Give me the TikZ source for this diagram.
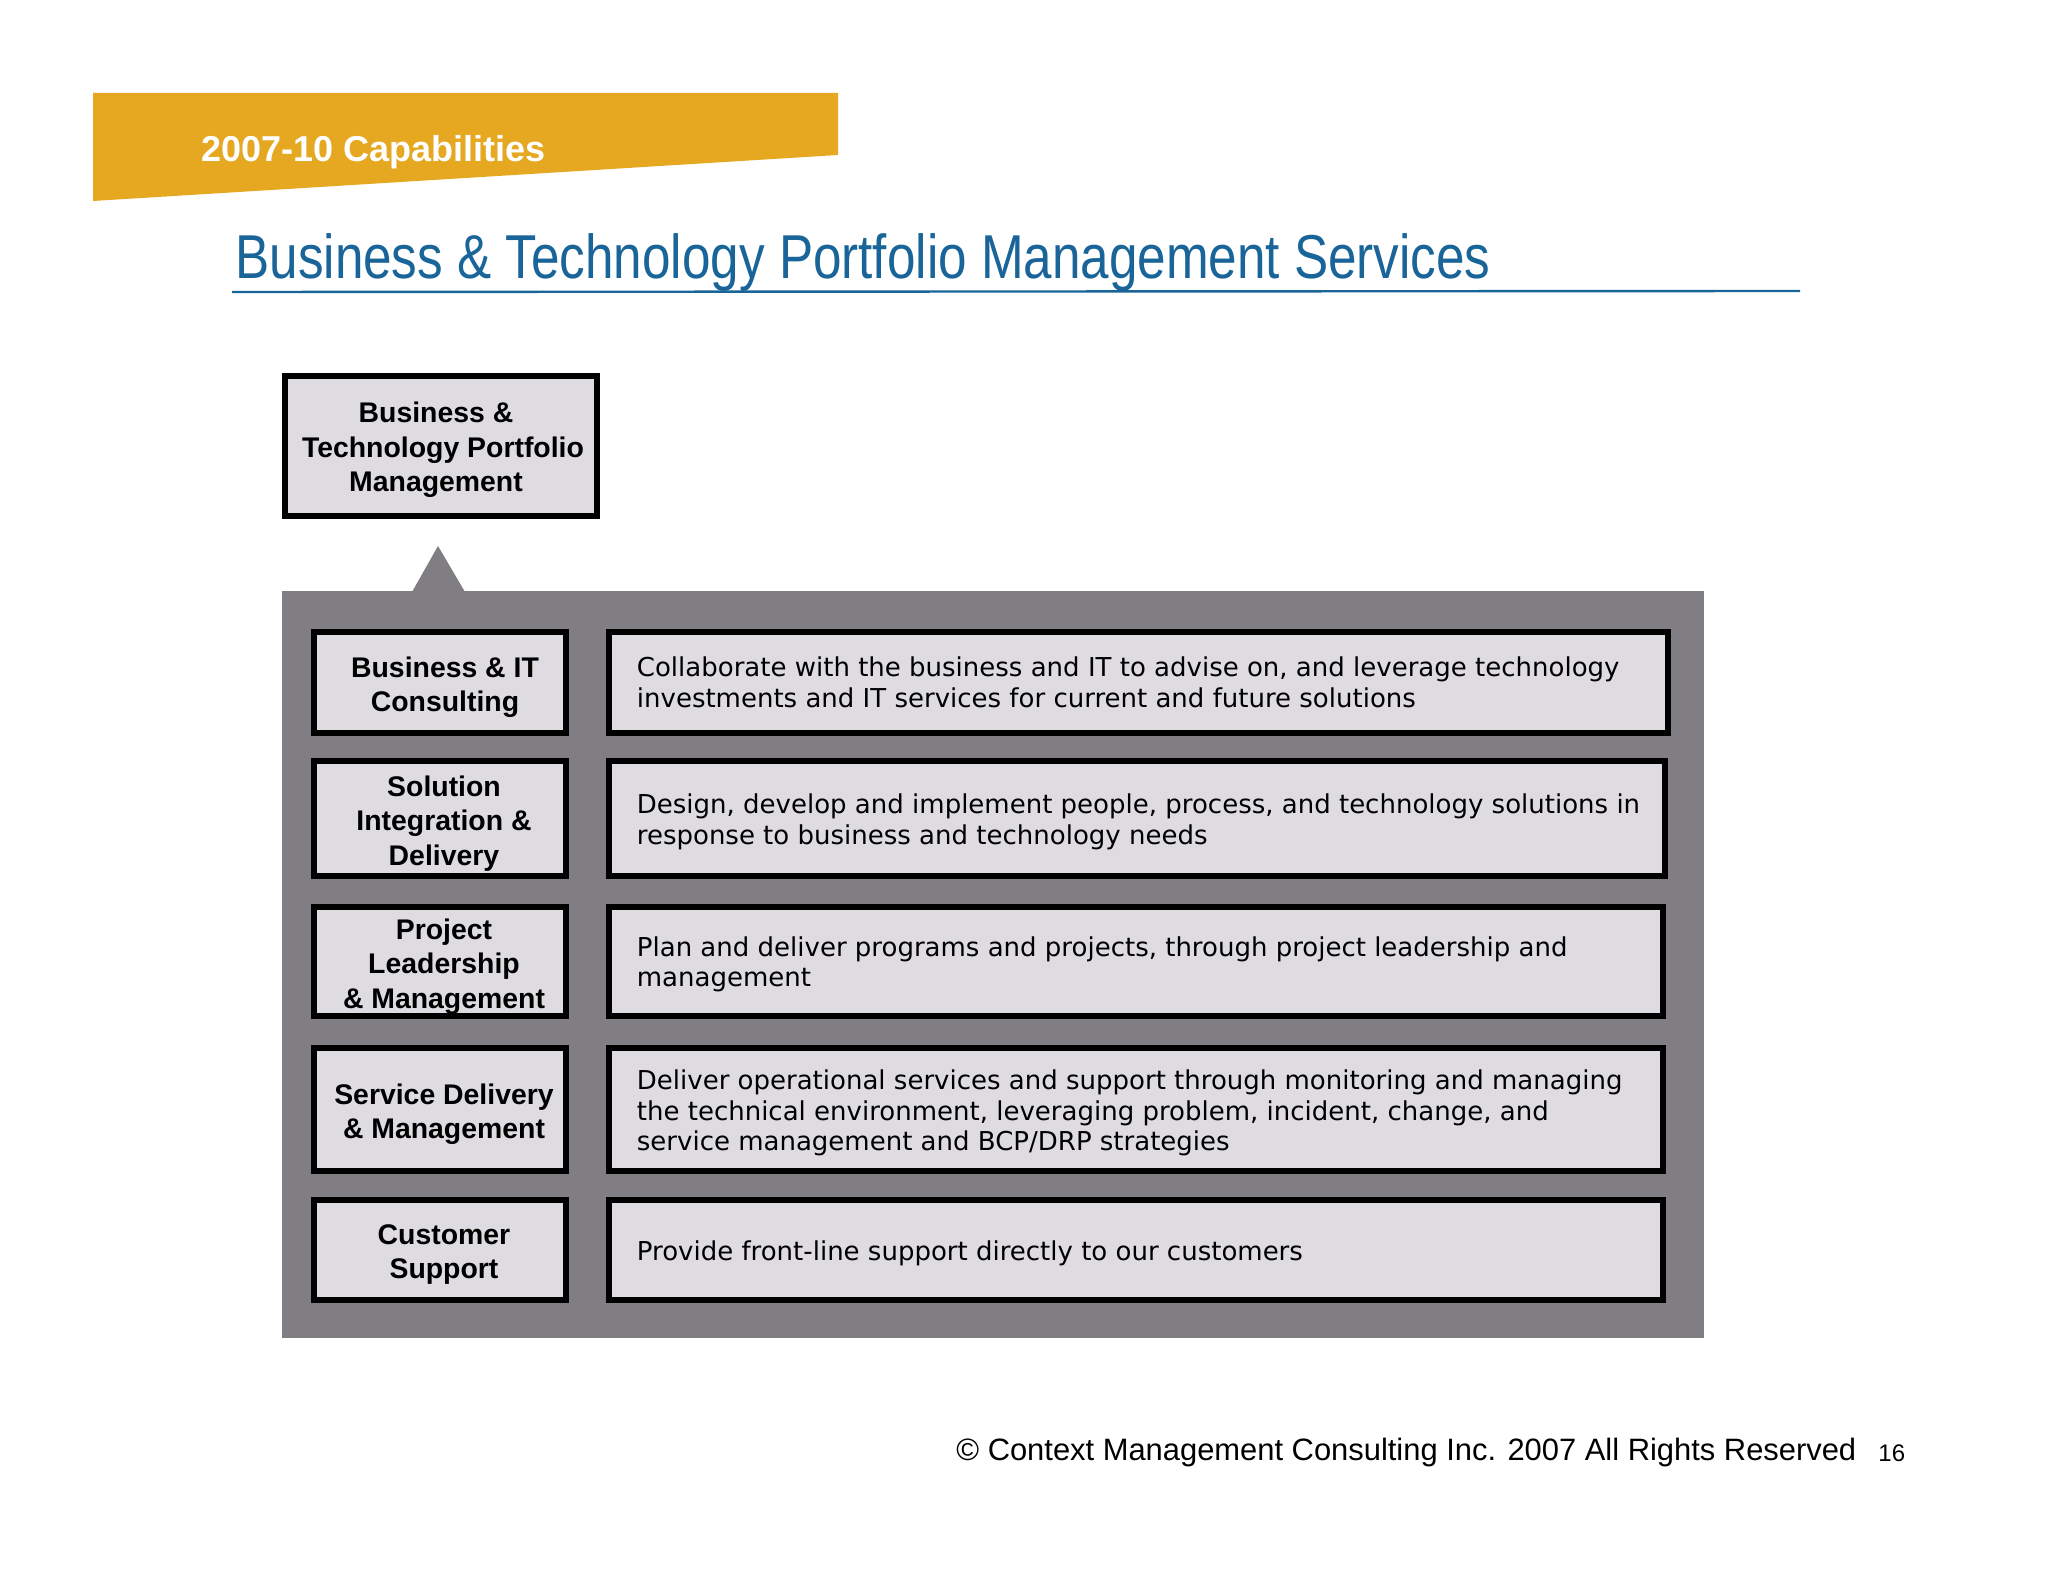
\documentclass[tikz,border=0pt]{standalone}
\usepackage{fontspec}
\setmainfont{Liberation Sans}
\newfontfamily\descfont{DejaVu Sans}
\newfontfamily\titlefont[FakeStretch=0.826]{Liberation Sans}
\definecolor{bannergold}{RGB}{229,168,32}
\definecolor{titleblue}{RGB}{25,100,152}
\definecolor{panelgray}{RGB}{128,126,130}
\definecolor{boxfill}{RGB}{222,220,224}
\begin{document}
\begin{tikzpicture}[x=0.5pt,y=-0.5pt,
  boxframe/.style={draw=black, line width=3pt, fill=boxfill, inner sep=0pt},
  lbltext/.style={inner sep=0pt, align=center, xshift=2pt, yshift=-2.5pt,
    font=\bfseries\fontsize{14.2}{17.25}\selectfont},
  desc/.style={anchor=west, inner sep=0pt, align=left,
    font=\descfont\fontsize{13}{15.25}\selectfont},
]
\useasboundingbox (0,0) rectangle (2048,1582);
\fill[white] (0,0) rectangle (2048,1582);

% banner
\fill[bannergold] (93,93) -- (838,93) -- (838,155) -- (93,201) -- cycle;
\node[anchor=base west, inner sep=0pt, text=white, font=\bfseries\fontsize{18}{18}\selectfont] (banner) at (201,162) {2007-10 Capabilities};

% title
\node[anchor=base west, inner sep=0pt, text=titleblue, font=\titlefont\fontsize{31}{31}\selectfont] (title) at (235,279) {Business \& Technology Portfolio Management Services};
\draw[titleblue, line width=1.2pt] (232,292) -- (1800,291);

% top box
\node[boxframe, minimum width=156pt, minimum height=70pt] (top) at (441,446) {};
\node[lbltext, xshift=-1pt, yshift=0.5pt] (toptext) at (top.center) {Business \&\hspace*{7pt}\\Technology Portfolio\\Management\hspace*{7pt}};

% panel with pointer
\fill[panelgray] (282,591) rectangle (1704,1338);
\fill[panelgray] (412,592) -- (438,546) -- (465,592) -- cycle;

% rows
\node[boxframe, minimum width=126pt, minimum height=50.25pt] (l1) at (440,682.25) {};
\node[lbltext, xshift=0.5pt] (l1t) at (l1.center) {Business \& IT\\Consulting};
\node[boxframe, minimum width=529.5pt, minimum height=50.25pt] (r1) at (1138.5,682.25) {};
\node[desc] (t1) at (636.5,682.25) {Collaborate with the business and IT to advise on, and leverage technology\\investments and IT services for current and future solutions};

\node[boxframe, minimum width=126pt, minimum height=57.5pt] (l2) at (440,818.5) {};
\node[lbltext] (l2t) at (l2.center) {Solution\\Integration \&\\Delivery};
\node[boxframe, minimum width=528pt, minimum height=57.5pt] (r2) at (1137,818.5) {};
\node[desc] (t2) at (636.5,822) {Design, develop and implement people, process, and technology solutions in\\response to business and technology needs};

\node[boxframe, minimum width=126pt, minimum height=54.75pt] (l3) at (440,961.25) {};
\node[lbltext] (l3t) at (l3.center) {Project\\Leadership\\\& Management};
\node[boxframe, minimum width=527pt, minimum height=54.75pt] (r3) at (1136,961.25) {};
\node[desc] (t3) at (636.5,964.5) {Plan and deliver programs and projects, through project leadership and\\management};

\node[boxframe, minimum width=126pt, minimum height=61.5pt] (l4) at (440,1109) {};
\node[lbltext] (l4t) at (l4.center) {Service Delivery\\\& Management};
\node[boxframe, minimum width=527pt, minimum height=61.5pt] (r4) at (1136,1109) {};
\node[desc] (t4) at (636.5,1113) {Deliver operational services and support through monitoring and managing\\the technical environment, leveraging problem, incident, change, and\\service management and BCP/DRP strategies};

\node[boxframe, minimum width=126pt, minimum height=50pt] (l5) at (440,1249.5) {};
\node[lbltext] (l5t) at (l5.center) {Customer\\Support};
\node[boxframe, minimum width=527pt, minimum height=50pt] (r5) at (1136,1249.5) {};
\node[desc] (t5) at (636.5,1253.5) {Provide front-line support directly to our customers};

% footer
\node[anchor=base west, inner sep=0pt, font=\fontsize{15.45}{15.45}\selectfont] (copy) at (956,1460) {© Context Management Consulting Inc. 2007 All Rights Reserved};
\node[anchor=base west, inner sep=0pt, font=\fontsize{12}{12}\selectfont] (page) at (1878,1461) {16};
\end{tikzpicture}
\end{document}
